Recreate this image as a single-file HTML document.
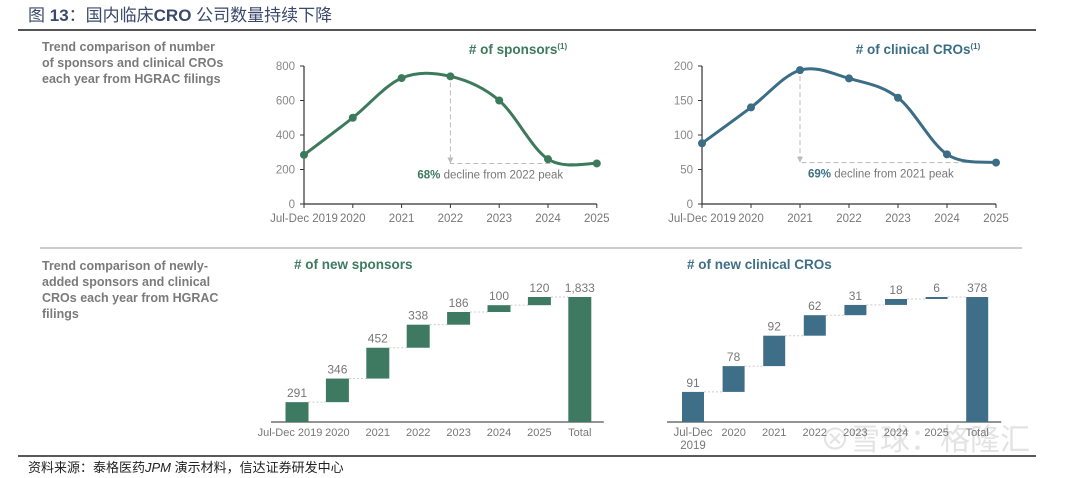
<!DOCTYPE html>
<html><head><meta charset="utf-8"><style>
body{margin:0;background:#fff;width:1080px;height:478px;overflow:hidden;font-family:"Liberation Sans","Noto Sans CJK SC",sans-serif}
svg{display:block}
</style></head><body>
<svg id="s" width="1080" height="478" xmlns="http://www.w3.org/2000/svg">
<text x="28" y="21" font-size="17" fill="#3b4a6b" font-family="Liberation Sans,Noto Sans CJK SC,sans-serif">图 <tspan font-weight="bold">13</tspan>：国内临床<tspan font-weight="bold">CRO</tspan> 公司数量持续下降</text>
<line x1="18" y1="30" x2="1036" y2="30" stroke="#555" stroke-width="2"/>
<g font-size="12.5" font-weight="bold" fill="#7a7a7a">
<text x="42" y="51">Trend comparison of number</text><text x="42" y="67">of sponsors and clinical CROs</text><text x="42" y="83">each year from HGRAC filings</text></g>
<line x1="40" y1="248" x2="1022" y2="248" stroke="#999" stroke-width="1"/>
<g font-size="12.5" font-weight="bold" fill="#7a7a7a">
<text x="42" y="270">Trend comparison of newly-</text><text x="42" y="286">added sponsors and clinical</text><text x="42" y="302">CROs each year from HGRAC</text><text x="42" y="318">filings</text></g>
<line x1="18" y1="456" x2="1036" y2="456" stroke="#222" stroke-width="1.5"/>
<text x="28" y="472" font-size="13" fill="#222">资料来源：泰格医药<tspan font-style="italic">JPM</tspan> 演示材料，信达证券研发中心</text>
<text x="820" y="450" font-size="30" fill="#ddd" opacity="0.8">⊗雪球：格隆汇</text>
<g id="g"></g>
</svg>
<script>
const years = ["Jul-Dec 2019","2020","2021","2022","2023","2024","2025"];
const sponsors = [285, 500, 730, 740, 600, 260, 235];
const cros = [88, 140, 194, 182, 154, 72, 60];
const sponsorTicks = [0,200,400,600,800];
const croTicks = [0,50,100,150,200];
const wfCats = ["Jul-Dec 2019","2020","2021","2022","2023","2024","2025","Total"];
const newSponsors = [291, 346, 452, 338, 186, 100, 120];
const newSponsorsTotal = 1833;
const newCros = [91, 78, 92, 62, 31, 18, 6];
const newCrosTotal = 378;

const NS="http://www.w3.org/2000/svg", G=document.getElementById('g');
function el(t,a,p){const e=document.createElementNS(NS,t);for(const k in a)e.setAttribute(k,a[k]);(p||G).appendChild(e);return e;}
function txt(x,y,s,a,p){const e=el('text',Object.assign({x:x,y:y},a),p);e.textContent=s;return e;}

function lineChart(o){
  const g=el('g',{});
  const max=o.ticks[o.ticks.length-1];
  const X=i=>o.x0+i*o.dx, Y=v=>o.y0-(v/max)*o.h;
  const ax=el('path',{d:`M${o.x0} ${Y(max)}V${o.y0}H${X(6)}`,stroke:'#333','stroke-width':1.2,fill:'none'},g);
  
  o.ticks.forEach(t=>{el('line',{x1:o.x0-4,x2:o.x0,y1:Y(t),y2:Y(t),stroke:'#333'},g);
    const tt=txt(o.x0-9,Y(t)+4,String(t),{'font-size':11.5,fill:'#888','text-anchor':'end'},g);
    });
  years.forEach((c,i)=>{el('line',{x1:X(i),x2:X(i),y1:o.y0,y2:o.y0+4,stroke:'#333'},g);
    const tt=txt(X(i),o.y0+18,c,{'font-size':11.5,fill:'#777','text-anchor':'middle'},g);
    });
  const vals=o.vals;const pk=vals.indexOf(Math.max(...vals));
  const last=vals.length-1;
  el('path',{d:`M${X(pk)} ${Y(vals[pk])+6}V${Y(vals[last])}H${X(last)-6}`,stroke:'#bbb','stroke-dasharray':'5 3',fill:'none'},g);
  el('path',{d:`M${X(pk)-3} ${Y(vals[last])-6}L${X(pk)} ${Y(vals[last])}L${X(pk)+3} ${Y(vals[last])-6}Z`,fill:'#bbb'},g);
  const pts=vals.map((v,i)=>[X(i),Y(v)]);
  let d=`M${pts[0][0]} ${pts[0][1]}`;
  for(let i=0;i<pts.length-1;i++){const p0=pts[i-1]||pts[i],p1=pts[i],p2=pts[i+1],p3=pts[i+2]||p2;
    d+=`C${p1[0]+(p2[0]-p0[0])/6} ${p1[1]+(p2[1]-p0[1])/6} ${p2[0]-(p3[0]-p1[0])/6} ${p2[1]-(p3[1]-p1[1])/6} ${p2[0]} ${p2[1]}`;}
  const ln=el('path',{d:d,stroke:o.color,'stroke-width':3,fill:'none'},g);
  
  pts.forEach(p=>{const c=el('circle',{cx:p[0],cy:p[1],r:4,fill:o.color},g);
    });
  const ti=txt(o.titleX,o.y0-150,o.title,{'font-size':13.5,'font-weight':'bold',fill:o.color,'text-anchor':'middle'},g);
  
  const sup=el('tspan',{'font-size':8,dy:-5},ti);sup.textContent='(1)';
  const an=txt(X(pk)+o.annDx,Y(vals[last])+15,'',{'font-size':11.5,fill:'#777'},g);
  
  const b=el('tspan',{'font-weight':'bold',fill:o.color},an);b.textContent=o.pct;
  const r=el('tspan',{},an);r.textContent=o.ann;
}
lineChart({name:'sponsors-line-chart',x0:304,dx:48.8,y0:204,h:138,ticks:sponsorTicks,vals:sponsors,color:'#3d7a5c',title:'# of sponsors',titleX:518,pct:'68%',ann:' decline from 2022 peak',annDx:-33});
lineChart({name:'cros-line-chart',x0:702,dx:49,y0:204,h:138,ticks:croTicks,vals:cros,color:'#3b6d86',title:'# of clinical CROs',titleX:918,pct:'69%',ann:' decline from 2021 peak',annDx:8});

function waterfall(o){
  const g=el('g',{});
  const Y=v=>o.y0-v/o.total*o.h, X=i=>o.x0+i*o.dx;
  const bl=el('line',{x1:X(0)-26,x2:X(7)+24,y1:o.y0,y2:o.y0,stroke:'#555','stroke-width':1.2},g);
  
  let cum=0;
  o.vals.forEach((v,i)=>{const top=Y(cum+v),bot=Y(cum);
    const r=el('rect',{x:X(i)-o.w/2,y:top,width:o.w,height:bot-top,fill:o.color},g);
    
    el('line',{x1:X(i)+o.w/2,x2:X(i+1)-o.w/2,y1:top,y2:top,stroke:'#ccc','stroke-dasharray':'2 2'},g);
    const t=txt(X(i),top-5,String(v),{'font-size':12,fill:'#777','text-anchor':'middle'},g);
    
    cum+=v;});
  const tr=el('rect',{x:X(7)-o.w/2,y:Y(o.total),width:o.w,height:o.y0-Y(o.total),fill:o.color},g);
  
  const tt=txt(X(7),Y(o.total)-5,o.total.toLocaleString('en-US'),{'font-size':12,fill:'#777','text-anchor':'middle'},g);
  
  wfCats.forEach((c,i)=>{
    if(o.wrap&&i===0){const a=txt(X(i),o.y0+14,'Jul-Dec',{'font-size':11.5,fill:'#777','text-anchor':'middle'},g);
      
      const b=txt(X(i),o.y0+27,'2019',{'font-size':11.5,fill:'#777','text-anchor':'middle'},g);
      return;}
    const xx=(i===0)?X(i)-7:X(i);
    const a=txt(xx,o.y0+14,c,{'font-size':11,fill:'#777','text-anchor':'middle'},g);
    });
  const ti=txt(o.titleX,269,o.title,{'font-size':13.5,'font-weight':'bold',fill:o.color},g);
  
}
waterfall({name:'new-sponsors-waterfall',x0:297,dx:40.4,y0:422,h:125,w:23,vals:newSponsors,total:newSponsorsTotal,color:'#3e7a62',title:'# of new sponsors',titleX:294});
waterfall({name:'new-cros-waterfall',x0:693,dx:40.6,y0:422,h:125,w:22,vals:newCros,total:newCrosTotal,color:'#3f6f88',title:'# of new clinical CROs',titleX:687,wrap:true});
</script>
</body></html>
